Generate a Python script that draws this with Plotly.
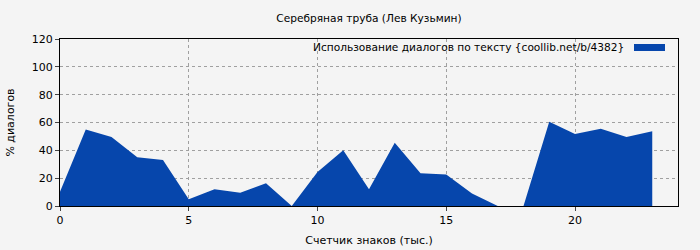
import plotly.graph_objects as go

title = "Серебряная труба (Лев Кузьмин)"
series_name = "Использование диалогов по тексту {coollib.net/b/4382}"
x_vals = list(range(24))
y_vals = [10.2, 55, 49.5, 35, 33, 4.8, 12, 9.5, 16.4, 0, 24.5, 40, 12, 45.5,
          23.6, 22.6, 9, 0, 0, 60.5, 51.7, 55.5, 49.5, 53.8]
x_label = "Счетчик знаков (тыс.)"
y_label = "% диалогов"
color = "#0646AC"
font = "DejaVu Sans"

fig = go.Figure()
fig.add_trace(go.Scatter(x=x_vals, y=y_vals, mode="lines", fill="tozeroy",
                         fillcolor=color, line=dict(color=color, width=0),
                         name=series_name, showlegend=False))

fig.update_layout(
    width=700, height=250,
    margin=dict(l=60, r=22, t=39, b=44),
    paper_bgcolor="#F4F4F4", plot_bgcolor="#F4F4F4",
    font=dict(family=font, size=11, color="#000"),
    title=dict(text=title, xref="paper", x=0.5, xanchor="center", y=1 - 18 / 250, yanchor="middle",
               font=dict(size=10.6)),
)
fig.update_xaxes(range=[0, 24], tickvals=[0, 5, 10, 15, 20], ticks="outside", ticklen=4,
                 showline=True, linecolor="#000", linewidth=1, mirror=True,
                 showgrid=True, gridcolor="#A0A0A0", griddash="dot", gridwidth=1,
                 zeroline=False, automargin=False, tickfont=dict(size=11),
                 title=dict(text=x_label, standoff=10, font=dict(size=11)))
fig.update_yaxes(range=[0, 120], tickvals=[0, 20, 40, 60, 80, 100, 120], ticks="outside", ticklen=4,
                 showline=True, linecolor="#000", linewidth=1, mirror=True,
                 showgrid=True, gridcolor="#A0A0A0", griddash="dot", gridwidth=1,
                 zeroline=False, automargin=False, tickfont=dict(size=11),
                 title=dict(text=y_label, standoff=14, font=dict(size=11)))

fig.add_annotation(text=series_name, xref="paper", yref="paper", x=(626 - 60) / 618,
                   y=1 - (47 - 39) / 167, xanchor="right", yanchor="middle",
                   showarrow=False, font=dict(size=10.6))
fig.add_shape(type="rect", xref="paper", yref="paper",
              x0=(634 - 60) / 618, x1=(665 - 60) / 618,
              y0=1 - (51 - 39) / 167, y1=1 - (44 - 39) / 167,
              fillcolor=color, line=dict(width=0))

fig.write_html("out.html")
